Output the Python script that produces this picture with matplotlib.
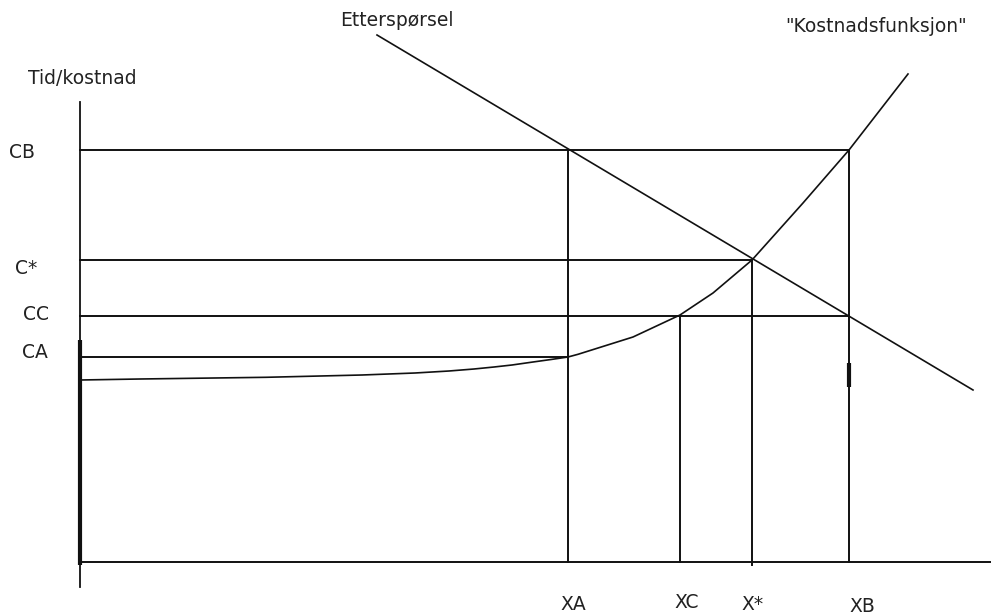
"""
Etterspørsel / kostnadsfunksjon-diagram (tid/kostnad mot trafikkmengde X).
Koordinater: origo i skjæringen mellom aksene. Lagres som out.png.
"""
import numpy as np
import matplotlib
matplotlib.use("Agg")
import matplotlib.pyplot as plt

# nivåer langs aksene
X_LABELS = ["XA", "XC", "X*", "XB"]
X_VALS = [488, 600, 672, 769]
C_LABELS = ["CB", "C*", "CC", "CA"]
C_VALS = [412, 302, 246, 205]

# kostnadsfunksjonen (avlest punkt for punkt)
COST_X = [0, 60, 186, 282, 335, 369, 394, 414, 432, 453, 471, 488, 498, 553, 600, 633, 672, 723, 769, 828]
COST_Y = [182, 183, 184.7, 187, 189, 191, 193, 195, 197, 200, 202.5, 205, 207.7, 225, 247, 269, 302, 359, 412, 488]

# etterspørselskurven (rett linje)
DEM_X = [297, 893]
DEM_Y = [527, 172]

FONT = dict(family="DejaVu Sans", fontsize=13.5, color="#222222")
K = "#111111"


def main():
    fig = plt.figure(figsize=(9.91, 6.16), dpi=100)
    ax = fig.add_axes([0, 0, 1, 1])
    ax.set_xlim(-80, 911); ax.set_ylim(-54, 562); ax.axis("off")

    xa, xc, xs, xb = X_VALS
    cb, cs, cc, ca = C_VALS

    # akser
    ax.plot([0, 0], [-25, 460], color=K, lw=1.3)
    ax.plot([0, 0], [-3, 222], color=K, lw=3.0, solid_capstyle="butt")
    ax.plot([0, 911], [0, 0], color=K, lw=1.4)

    # hjelpelinjer
    for lvl, xend in [(cb, xb), (cs, xs), (cc, xb), (ca, xa)]:
        ax.plot([0, xend], [lvl, lvl], color=K, lw=1.4)
    for xv, top, bot in [(xa, cb, 0), (xc, cc, 0), (xs, cs, -3), (xb, cb, 0)]:
        ax.plot([xv, xv], [bot, top], color=K, lw=1.4)
    ax.plot([xb, xb], [175, 199], color=K, lw=3.0, solid_capstyle="butt")

    # kurver
    ax.plot(COST_X, COST_Y, color=K, lw=1.2, solid_joinstyle="round")
    ax.plot(DEM_X, DEM_Y, color=K, lw=1.2)

    # tekst
    ax.text(-52, 483, "Tid/kostnad", ha="left", va="center", **FONT)
    for lab, y, x0 in zip(C_LABELS, [410, 294, 247, 210], [-71, -65, -57, -58]):
        ax.text(x0, y, lab, ha="left", va="center", **FONT)
    for lab, x, y in zip(X_LABELS, [493, 607, 673, 782], [-42, -40, -42, -45]):
        ax.text(x, y, lab, ha="center", va="center", **FONT)
    ax.text(260, 542, "Etterspørsel", ha="left", va="center", **FONT)
    ax.text(705, 536, '"Kostnadsfunksjon"', ha="left", va="center", **FONT)

    fig.savefig("out.png", dpi=100, facecolor="white")


if __name__ == "__main__":
    main()
